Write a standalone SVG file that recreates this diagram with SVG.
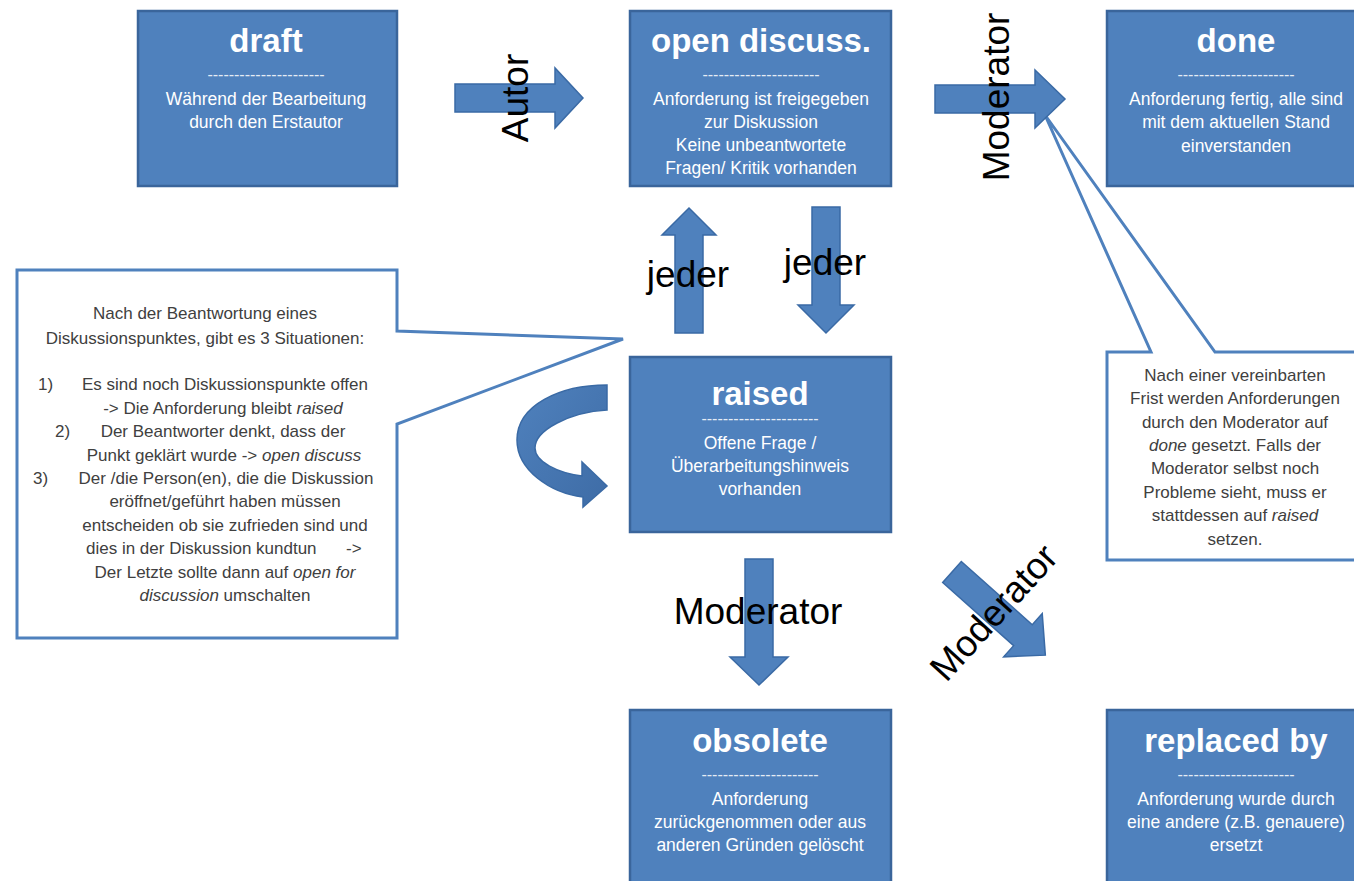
<svg xmlns="http://www.w3.org/2000/svg" width="1354" height="881" viewBox="0 0 1354 881">
<style>
.node rect{fill:#4f81bd;stroke:#3a659b;stroke-width:2.5}
text{font-family:"Liberation Sans",Arial,sans-serif}
.title{font-weight:bold;font-size:33px;fill:#fff;text-anchor:middle}
.dash{font-size:16px;fill:#fff;text-anchor:middle;opacity:.85}
.body{font-size:17.5px;fill:#fff;text-anchor:middle}
.arrow{fill:#4f81bd;stroke:#3a6aa5;stroke-width:1.5}
.lbl{font-size:37px;fill:#000;text-anchor:middle}
.callout{fill:#fff;stroke:#4f81bd;stroke-width:3;stroke-linejoin:miter}
.ct{font-size:17px;fill:#404040;text-anchor:middle}
.cn{font-size:17px;fill:#404040}
.it{font-style:italic}
</style>
<defs>
<linearGradient id="cg" x1="0" y1="0" x2="1" y2="1">
<stop offset="0" stop-color="#4f81bd"/>
<stop offset="1" stop-color="#3e6ca6"/>
</linearGradient>
</defs>
<rect width="1354" height="881" fill="#fff"/>

<g id="callout-left">
<path class="callout" d="M17 270 L397 270 L397 331 L623 339 L397 424 L397 638 L17 638 Z"/>
<text class="ct" x="205" y="319">Nach der Beantwortung eines</text>
<text class="ct" x="205" y="344">Diskussionspunktes, gibt es 3 Situationen:</text>
<text class="cn" x="38" y="390">1)</text>
<text class="ct" x="225" y="390">Es sind noch Diskussionspunkte offen</text>
<text class="ct" x="223" y="414">-&gt; Die Anforderung bleibt <tspan class="it">raised</tspan></text>
<text class="cn" x="55" y="437">2)</text>
<text class="ct" x="223" y="437">Der Beantworter denkt, dass der</text>
<text class="ct" x="224" y="461">Punkt geklärt wurde -&gt; <tspan class="it">open discuss</tspan></text>
<text class="cn" x="33" y="484">3)</text>
<text class="ct" x="226" y="484">Der /die Person(en), die die Diskussion</text>
<text class="ct" x="225" y="507">eröffnet/geführt haben müssen</text>
<text class="ct" x="225" y="531">entscheiden ob sie zufrieden sind und</text>
<text class="cn" x="86" y="554">dies in der Diskussion kundtun</text>
<text class="cn" x="346" y="554">-&gt;</text>
<text class="ct" x="225" y="578">Der Letzte sollte dann auf <tspan class="it">open for</tspan></text>
<text class="ct" x="225" y="601"><tspan class="it">discussion</tspan> umschalten</text>
</g>

<g id="callout-right">
<path class="callout" d="M1107 352 L1151 352 L1045 115 L1215 352 L1366 352 L1366 560 L1107 560 Z"/>
<text class="ct" x="1235" y="381">Nach einer vereinbarten</text>
<text class="ct" x="1235" y="404">Frist werden Anforderungen</text>
<text class="ct" x="1235" y="428">durch den Moderator auf</text>
<text class="ct" x="1235" y="451"><tspan class="it">done</tspan> gesetzt. Falls der</text>
<text class="ct" x="1235" y="474">Moderator selbst noch</text>
<text class="ct" x="1235" y="498">Probleme sieht, muss er</text>
<text class="ct" x="1235" y="521">stattdessen auf <tspan class="it">raised</tspan></text>
<text class="ct" x="1235" y="545">setzen.</text>
</g>

<g id="draft" class="node">
<rect x="138" y="11" width="259" height="175"/>
<text class="title" x="266" y="52">draft</text>
<text class="dash" x="266" y="80">----------------------</text>
<text class="body" x="266" y="105">Während der Bearbeitung</text>
<text class="body" x="266" y="128">durch den Erstautor</text>
</g>

<g id="open-discuss" class="node">
<rect x="630" y="11" width="261" height="175"/>
<text class="title" x="761" y="52">open discuss.</text>
<text class="dash" x="761" y="80">----------------------</text>
<text class="body" x="761" y="105">Anforderung ist freigegeben</text>
<text class="body" x="761" y="128">zur Diskussion</text>
<text class="body" x="761" y="151">Keine unbeantwortete</text>
<text class="body" x="761" y="174">Fragen/ Kritik vorhanden</text>
</g>

<g id="done" class="node">
<rect x="1107" y="11" width="262" height="175"/>
<text class="title" x="1236" y="52">done</text>
<text class="dash" x="1236" y="80">----------------------</text>
<text class="body" x="1236" y="105">Anforderung fertig, alle sind</text>
<text class="body" x="1236" y="128">mit dem aktuellen Stand</text>
<text class="body" x="1236" y="152">einverstanden</text>
</g>

<g id="raised" class="node">
<rect x="630" y="357" width="261" height="175"/>
<text class="title" x="760" y="405">raised</text>
<text class="dash" x="760" y="424">----------------------</text>
<text class="body" x="760" y="449">Offene Frage /</text>
<text class="body" x="760" y="472">Überarbeitungshinweis</text>
<text class="body" x="760" y="495">vorhanden</text>
</g>

<g id="obsolete" class="node">
<rect x="630" y="710" width="261" height="185"/>
<text class="title" x="760" y="752">obsolete</text>
<text class="dash" x="760" y="780">----------------------</text>
<text class="body" x="760" y="805">Anforderung</text>
<text class="body" x="760" y="828">zurückgenommen oder aus</text>
<text class="body" x="760" y="851">anderen Gründen gelöscht</text>
</g>

<g id="replaced-by" class="node">
<rect x="1107" y="710" width="262" height="185"/>
<text class="title" x="1236" y="752">replaced by</text>
<text class="dash" x="1236" y="780">----------------------</text>
<text class="body" x="1236" y="805">Anforderung wurde durch</text>
<text class="body" x="1236" y="828">eine andere (z.B. genauere)</text>
<text class="body" x="1236" y="851">ersetzt</text>
</g>

<g id="connectors">
<path class="arrow" d="M455 84 L555 84 L555 68 L583 98 L555 128 L555 112 L455 112 Z"/>
<path class="arrow" d="M935 85 L1035 85 L1035 70 L1065 99 L1035 128 L1035 113 L935 113 Z"/>
<path class="arrow" d="M675 333 L675 235 L662 235 L689 208 L716 235 L703 235 L703 333 Z"/>
<path class="arrow" d="M812 207 L840 207 L840 305 L854 305 L826 333 L798 305 L812 305 Z"/>
<path class="arrow" d="M745 559 L773 559 L773 657 L788 657 L759 685 L730 657 L745 657 Z"/>
<path class="arrow" transform="translate(952,572) rotate(41.7)" d="M0 -14 L95 -14 L95 -29 L125 0 L95 29 L95 14 L0 14 Z"/>
<path class="arrow" style="fill:url(#cg)" d="M607 385 C560 385 517 405 517 440 C517 470 550 493 583 497 L583 507 L607 486 L582 462 L582 476 C558 473 535 462 535 448 C535 430 570 412 607 410 Z"/>
<text class="lbl" transform="translate(528,98) rotate(-90)">Autor</text>
<text class="lbl" transform="translate(1009,97) rotate(-90)">Moderator</text>
<text class="lbl" x="688" y="287">jeder</text>
<text class="lbl" x="825" y="275">jeder</text>
<text class="lbl" x="758" y="624">Moderator</text>
<text class="lbl" transform="translate(1003,621) rotate(-47.7)">Moderator</text>
</g>
</svg>
